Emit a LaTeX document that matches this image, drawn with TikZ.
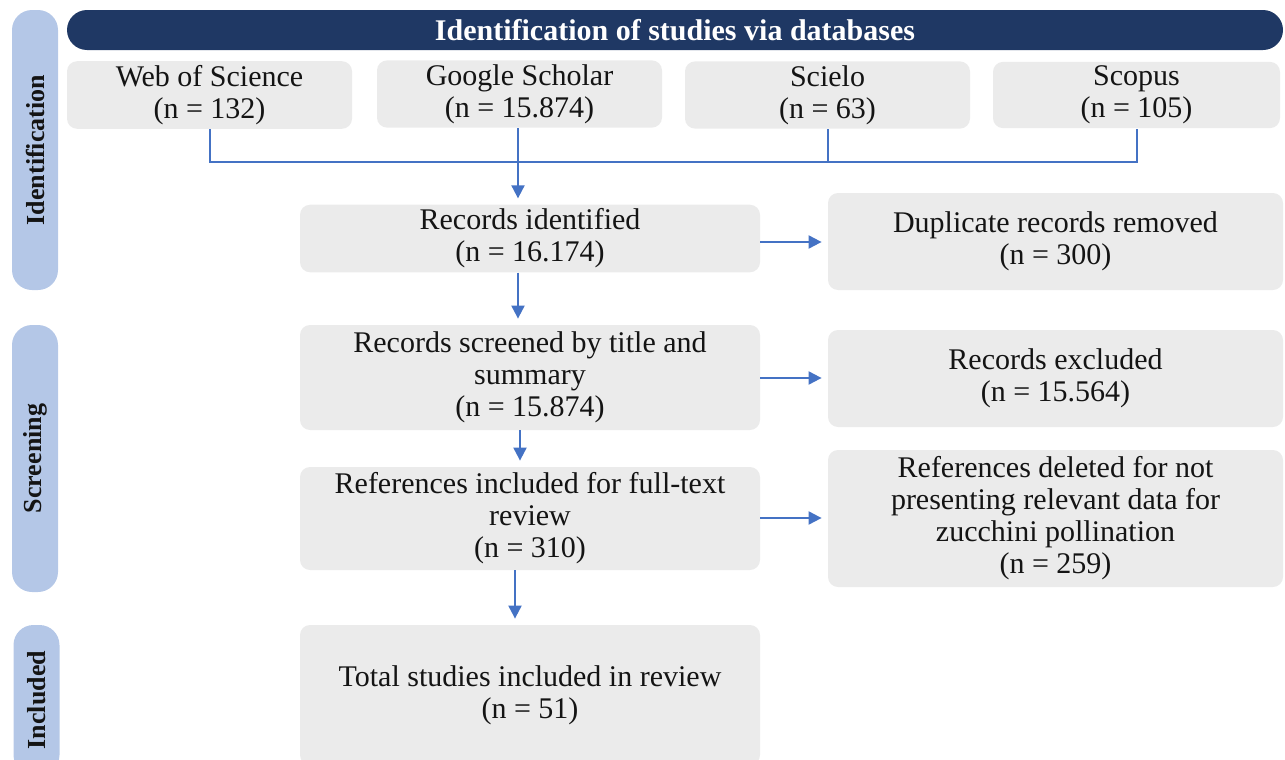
\documentclass[tikz,border=0pt]{standalone}
\usepackage{fontspec}
\setmainfont{Liberation Serif}
\usepackage{tikz}
\usetikzlibrary{arrows.meta}
\definecolor{navy}{HTML}{1F3864}
\definecolor{phase}{HTML}{B4C7E7}
\definecolor{boxgray}{HTML}{EBEBEB}
\definecolor{flow}{HTML}{4472C4}
\definecolor{ink}{HTML}{141414}

\tikzset{
  box/.style={fill=boxgray, rounded corners=5pt, align=center, text=ink, inner sep=2pt,
    font=\fontsize{15}{16}\selectfont},
  phasebox/.style={fill=phase, rounded corners=10pt, rotate=90, text=ink, minimum height=23pt,
    font=\fontsize{13}{15}\selectfont\bfseries},
  link/.style={draw=flow, line width=1pt},
  arr/.style={link, -{Triangle[length=6.5pt,width=6.5pt]}, shorten >=3pt},
}

\begin{document}
\begin{tikzpicture}[x=0.5pt,y=-0.5pt]
\useasboundingbox (0,0) rectangle (1285,760);
% banner
\node[fill=navy, rounded corners=10pt, minimum width=608pt, minimum height=20pt, text=white,
  font=\fontsize{15}{17}\selectfont\bfseries] (title) at (675,30) {Identification of studies via databases};
% phases
\node[phasebox, minimum width=140pt] (idphase) at (35,150) {Identification};
\node[phasebox, minimum width=133.5pt] (scphase) at (35,458.5) {Screening};
\node[phasebox, minimum width=75pt] (inphase) at (36.5,700) {Included};
% databases
\node[box, minimum width=142.5pt, minimum height=32.5pt] (wos) at (209.5,95) {Web of Science\\(n = 132)};
\node[box, minimum width=142.5pt, minimum height=32.5pt] (gs) at (519.5,94) {Google Scholar\\(n = 15.874)};
\node[box, minimum width=142.5pt, minimum height=32.5pt] (sci) at (827.5,95) {Scielo\\(n = 63)};
\node[box, minimum width=143.5pt, minimum height=32.5pt] (sco) at (1136.5,95) {Scopus\\(n = 105)};
% main flow
\node[box, minimum width=230pt, minimum height=31.5pt] (ident) at (530,238.5) {Records identified\\(n = 16.174)};
\node[box, minimum width=230pt, minimum height=52.5pt] (screen) at (530,377.5) {Records screened by title and\\summary\\(n = 15.874)};
\node[box, minimum width=230pt, minimum height=51.5pt] (full) at (530,518.5) {References included for full-text\\review\\(n = 310)};
\node[box, minimum width=230pt, minimum height=70pt] (total) at (530,695) {Total studies included in review\\(n = 51)};
% removed
\node[box, minimum width=227.5pt, minimum height=48.5pt] (dup) at (1055.5,241.5) {Duplicate records removed\\(n = 300)};
\node[box, minimum width=227.5pt, minimum height=48.5pt] (excl) at (1055.5,378.5) {Records excluded\\(n = 15.564)};
\node[box, minimum width=227.5pt, minimum height=68.5pt] (del) at (1055.5,518.5) {References deleted for not\\presenting relevant data for\\zucchini pollination\\(n = 259)};

% connectors
\coordinate (bus) at (518,162);
\draw[link] (wos.south) |- (bus) -| (sco.south);
\draw[link] (gs.south -| bus) -- (bus);
\draw[link] (sci.south) -- (sci.south |- bus);
\draw[arr] (bus) -- (bus |- ident.north);
\draw[arr] (ident.south -| bus) -- (screen.north -| bus);
\draw[arr] (screen.south -| 520,0) -- (full.north -| 520,0);
\draw[arr] (full.south -| 515,0) -- (total.north -| 515,0);
\draw[arr] (ident.east |- 0,242) -- (dup.west |- 0,242);
\draw[arr] (screen.east |- 0,378) -- (excl.west |- 0,378);
\draw[arr] (full.east |- 0,518) -- (del.west |- 0,518);
\end{tikzpicture}
\end{document}
